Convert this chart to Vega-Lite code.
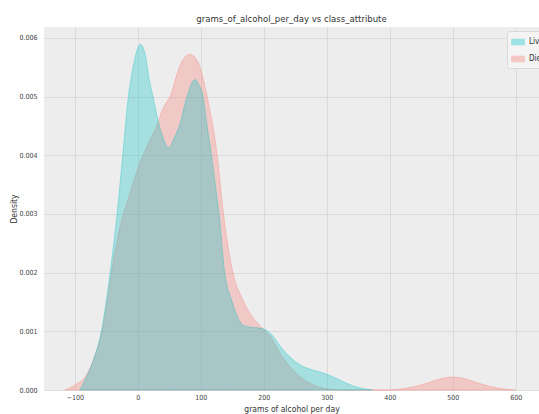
{
  "$schema": "https://vega.github.io/schema/vega-lite/v6.json",
  "autosize": {"type": "none"},
  "padding": {"left": 44, "top": 27, "right": 0, "bottom": 24},
  "width": 495,
  "height": 363,
  "background": "#ffffff",
  "title": {
    "text": "grams_of_alcohol_per_day vs class_attribute",
    "fontSize": 9.5,
    "fontWeight": "normal",
    "font": "DejaVu Sans Condensed, Liberation Sans Narrow, DejaVu Sans, sans-serif",
    "color": "#333333",
    "anchor": "middle",
    "offset": 4
  },
  "data": {
    "values": [
      {"class": "Die", "x": -116, "density": 0},
      {"class": "Die", "x": -100, "density": 0.000085},
      {"class": "Die", "x": -84, "density": 0.00022},
      {"class": "Die", "x": -71, "density": 0.0005},
      {"class": "Die", "x": -58, "density": 0.00095},
      {"class": "Die", "x": -50, "density": 0.0014},
      {"class": "Die", "x": -42, "density": 0.002},
      {"class": "Die", "x": -32, "density": 0.0026},
      {"class": "Die", "x": -23, "density": 0.003},
      {"class": "Die", "x": -17, "density": 0.0032},
      {"class": "Die", "x": 3, "density": 0.00386},
      {"class": "Die", "x": 19, "density": 0.00425},
      {"class": "Die", "x": 30, "density": 0.0045},
      {"class": "Die", "x": 40, "density": 0.0048},
      {"class": "Die", "x": 51, "density": 0.005},
      {"class": "Die", "x": 67, "density": 0.00553},
      {"class": "Die", "x": 82.5, "density": 0.00572},
      {"class": "Die", "x": 95, "density": 0.0056},
      {"class": "Die", "x": 110, "density": 0.005},
      {"class": "Die", "x": 126, "density": 0.004},
      {"class": "Die", "x": 136, "density": 0.003},
      {"class": "Die", "x": 151, "density": 0.002},
      {"class": "Die", "x": 167, "density": 0.00153},
      {"class": "Die", "x": 186, "density": 0.00119},
      {"class": "Die", "x": 198, "density": 0.00105},
      {"class": "Die", "x": 210, "density": 0.00092},
      {"class": "Die", "x": 231, "density": 0.00054},
      {"class": "Die", "x": 257, "density": 0.00023},
      {"class": "Die", "x": 278, "density": 0.00009},
      {"class": "Die", "x": 300, "density": 0.00002},
      {"class": "Die", "x": 320, "density": 0},
      {"class": "Die", "x": 400, "density": 0},
      {"class": "Die", "x": 420, "density": 0.00002},
      {"class": "Die", "x": 440, "density": 0.00006},
      {"class": "Die", "x": 460, "density": 0.00012},
      {"class": "Die", "x": 480, "density": 0.00019},
      {"class": "Die", "x": 500, "density": 0.00022},
      {"class": "Die", "x": 520, "density": 0.00019},
      {"class": "Die", "x": 540, "density": 0.00012},
      {"class": "Die", "x": 560, "density": 0.00006},
      {"class": "Die", "x": 580, "density": 0.00002},
      {"class": "Die", "x": 600, "density": 0},
      {"class": "Live", "x": -92, "density": 0},
      {"class": "Live", "x": -84, "density": 0.00017},
      {"class": "Live", "x": -71, "density": 0.0005},
      {"class": "Live", "x": -58, "density": 0.001},
      {"class": "Live", "x": -50, "density": 0.00153},
      {"class": "Live", "x": -44, "density": 0.002},
      {"class": "Live", "x": -33, "density": 0.003},
      {"class": "Live", "x": -24, "density": 0.004},
      {"class": "Live", "x": -15, "density": 0.005},
      {"class": "Live", "x": -6.5, "density": 0.00556},
      {"class": "Live", "x": 4, "density": 0.00589},
      {"class": "Live", "x": 12, "density": 0.0057},
      {"class": "Live", "x": 18, "density": 0.0053},
      {"class": "Live", "x": 24, "density": 0.005},
      {"class": "Live", "x": 32, "density": 0.0046},
      {"class": "Live", "x": 40, "density": 0.0043},
      {"class": "Live", "x": 49, "density": 0.00413},
      {"class": "Live", "x": 58, "density": 0.0043},
      {"class": "Live", "x": 67, "density": 0.00454},
      {"class": "Live", "x": 78, "density": 0.005},
      {"class": "Live", "x": 90.5, "density": 0.00529},
      {"class": "Live", "x": 97, "density": 0.0052},
      {"class": "Live", "x": 103.5, "density": 0.005},
      {"class": "Live", "x": 110, "density": 0.0045},
      {"class": "Live", "x": 117, "density": 0.004},
      {"class": "Live", "x": 123, "density": 0.0035},
      {"class": "Live", "x": 129, "density": 0.003},
      {"class": "Live", "x": 138, "density": 0.002},
      {"class": "Live", "x": 149, "density": 0.00153},
      {"class": "Live", "x": 161, "density": 0.00119},
      {"class": "Live", "x": 167, "density": 0.0011},
      {"class": "Live", "x": 180, "density": 0.00107},
      {"class": "Live", "x": 196, "density": 0.00105},
      {"class": "Live", "x": 210, "density": 0.00097},
      {"class": "Live", "x": 231, "density": 0.00068},
      {"class": "Live", "x": 257, "density": 0.00043},
      {"class": "Live", "x": 278, "density": 0.00034},
      {"class": "Live", "x": 300, "density": 0.00027},
      {"class": "Live", "x": 321, "density": 0.00017},
      {"class": "Live", "x": 337, "density": 0.00009},
      {"class": "Live", "x": 355, "density": 0.00003},
      {"class": "Live", "x": 373, "density": 0}
    ]
  },
  "mark": {
    "type": "area",
    "interpolate": "monotone",
    "fillOpacity": 0.3,
    "strokeOpacity": 0.4,
    "strokeWidth": 0.8
  },
  "encoding": {
    "x": {
      "field": "x",
      "type": "quantitative",
      "scale": {"domain": [-149, 637], "nice": false, "zero": false},
      "axis": {
        "title": "grams of alcohol per day",
        "values": [-100, 0, 100, 200, 300, 400, 500, 600],
        "format": "d",
        "labelPadding": 3
      }
    },
    "y": {
      "field": "density",
      "type": "quantitative",
      "stack": null,
      "scale": {"domain": [0, 0.006184], "nice": false},
      "axis": {
        "title": "Density",
        "values": [0, 0.001, 0.002, 0.003, 0.004, 0.005, 0.006],
        "format": ".3f",
        "labelPadding": 7,
        "titlePadding": 0
      }
    },
    "color": {
      "field": "class",
      "type": "nominal",
      "scale": {"domain": ["Live", "Die"], "range": ["#00BFC4", "#F8766D"]},
      "legend": {
        "title": null,
        "orient": "none",
        "legendX": 463,
        "legendY": 4,
        "symbolType": "M-1,-0.45H1V0.45H-1Z",
        "symbolSize": 169,
        "symbolOpacity": 0.35,
        "symbolStrokeWidth": 0.8,
        "labelFontSize": 8,
        "labelOffset": 4,
        "rowPadding": 5,
        "padding": 4,
        "fillColor": "#f4f4f4",
        "strokeColor": "#d8d8d8",
        "cornerRadius": 3
      }
    },
    "stroke": {
      "field": "class",
      "type": "nominal",
      "scale": {"domain": ["Live", "Die"], "range": ["#00BFC4", "#F8766D"]},
      "legend": null
    }
  },
  "config": {
    "font": "DejaVu Sans Condensed, Liberation Sans Narrow, DejaVu Sans, sans-serif",
    "view": {"fill": "#ededed", "stroke": null},
    "axis": {
      "ticks": false,
      "domain": false,
      "grid": true,
      "gridColor": "#d6d6d6",
      "gridWidth": 0.8,
      "labelFontSize": 7,
      "labelColor": "#444444",
      "titleFontSize": 8.5,
      "titleFontWeight": "normal",
      "titleColor": "#333333"
    },
    "legend": {"labelColor": "#333333"}
  }
}
